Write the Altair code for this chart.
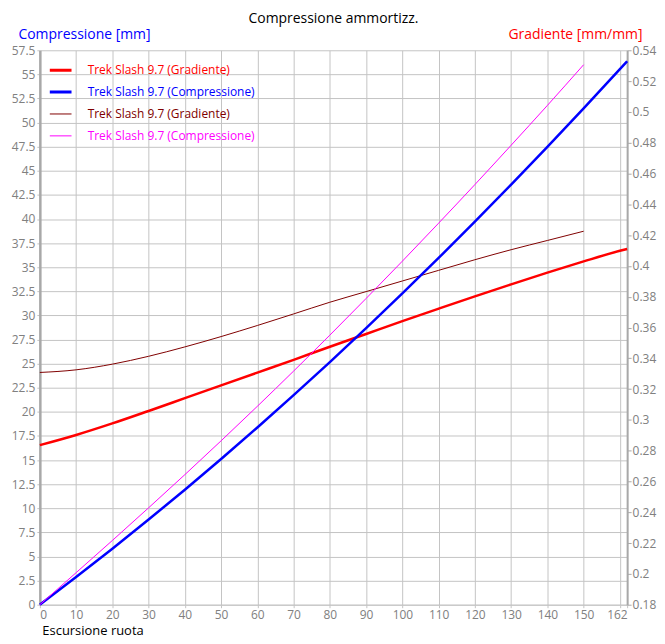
import altair as alt
import pandas as pd

# ---- data ----
x_long = [0, 10, 20, 30, 40, 50, 60, 70, 80, 90, 100, 110, 120, 130, 140, 150, 160, 162]
x_short = [0, 10, 20, 30, 40, 50, 60, 70, 80, 90, 100, 110, 120, 130, 140, 150]

# Trek Slash 9.7 (Gradiente) - thick red, right axis [mm/mm]
grad_1 = [0.2836, 0.2902, 0.2977, 0.3058, 0.3141, 0.3224, 0.3307, 0.3390, 0.3475,
          0.3558, 0.3641, 0.3722, 0.3802, 0.3880, 0.3956, 0.4029, 0.4098, 0.4110]
# Trek Slash 9.7 (Compressione) - thick blue, left axis [mm]
comp_1 = [0.0, 2.87, 5.81, 8.83, 11.93, 15.11, 18.38, 21.73, 25.16,
          28.68, 32.28, 35.96, 39.73, 43.57, 47.49, 51.48, 55.54, 56.36]
# Trek Slash 9.7 (Gradiente) - thin dark red, right axis
grad_2 = [0.3308, 0.3325, 0.3362, 0.3413, 0.3474, 0.3541, 0.3613, 0.3688,
          0.3764, 0.3833, 0.3902, 0.3971, 0.4040, 0.4105, 0.4165, 0.4225]
# Trek Slash 9.7 (Compressione) - thin magenta, left axis
comp_2 = [0.0, 3.32, 6.66, 10.05, 13.49, 17.00, 20.58, 24.23,
          27.96, 31.76, 35.63, 39.57, 43.57, 47.65, 51.78, 56.00]

keys = ["A", "B", "C", "D"]
names = ["Trek Slash 9.7 (Gradiente)", "Trek Slash 9.7 (Compressione)",
         "Trek Slash 9.7 (Gradiente)", "Trek Slash 9.7 (Compressione)"]
colors = ["#ff0000", "#0000ff", "#800000", "#ff00ff"]

x_ticks = list(range(0, 161, 10)) + [162]
left_ticks = [round(2.5 * i, 1) for i in range(24)]
right_ticks = [round(0.18 + 0.02 * i, 2) for i in range(19)]

# ---- tables ----
df_a = pd.DataFrame({"x": x_long, "v": grad_1, "key": "A"})
df_b = pd.DataFrame({"x": x_long, "v": comp_1, "key": "B"})
df_c = pd.DataFrame({"x": x_short, "v": grad_2, "key": "C"})
df_d = pd.DataFrame({"x": x_short, "v": comp_2, "key": "D"})

label_expr = " : ".join(
    [f"datum.value == '{k}' ? '{n}'" for k, n in zip(keys[:-1], names[:-1])]
) + f" : '{names[-1]}'"
color_expr = " : ".join(
    [f"datum.value == '{k}' ? '{c}'" for k, c in zip(keys[:-1], colors[:-1])]
) + f" : '{colors[-1]}'"
width_expr = "datum.value == 'A' || datum.value == 'B' ? 3 : 1"

GRAY = "#808080"
GRID = "#c4c4c4"

x_enc = alt.X(
    "x:Q",
    scale=alt.Scale(domain=[0, 162], nice=False, zero=False),
    axis=alt.Axis(
        values=x_ticks, format="d",
        labelExpr="datum.value == 160 ? '' : datum.label",
        grid=True, gridColor=GRID, gridOpacity=1,
        domainColor=GRID, tickColor=GRID, tickSize=3,
        labelColor=GRAY, labelFontSize=12, labelPadding=2,
        title="Escursione ruota", titleFontSize=13, titleFontWeight="normal",
        titleColor="#000000", titleAlign="left", titleAnchor="start",
        titleX=2, titleY=26, titleBaseline="middle",
    ),
)

color_enc = alt.Color(
    "key:N",
    scale=alt.Scale(domain=keys, range=colors),
    legend=alt.Legend(
        title=None, orient="none", legendX=10, legendY=12,
        symbolType="stroke", symbolSize=1000, clipHeight=16, rowPadding=6,
        symbolStrokeWidth=alt.ExprRef(width_expr),
        labelExpr=label_expr, labelColor=alt.ExprRef(color_expr),
        labelFontSize=12, labelOffset=26, labelLimit=400, padding=0,
    ),
)

left_axis = alt.Axis(
    values=left_ticks, format=".1~f", grid=True, gridColor=GRID, gridOpacity=1,
    domainColor="#a8a8a8", domainWidth=2.5, tickColor=GRID, tickSize=3,
    labelColor=GRAY, labelFontSize=12, labelPadding=2,
    title="Compressione [mm]", titleAngle=0, titleColor="#0000ff",
    titleFontSize=14, titleFontWeight="normal", titleAlign="left",
    titleX=-22, titleY=-9, titleBaseline="bottom",
)
right_axis = alt.Axis(
    orient="right", values=right_ticks, format=".2~f", grid=False,
    domainColor="#a8a8a8", domainWidth=2, tickColor="#a8a8a8", tickSize=4,
    labelColor=GRAY, labelFontSize=12, labelPadding=1,
    title="Gradiente [mm/mm]", titleAngle=0, titleColor="#ff0000",
    titleFontSize=14, titleFontWeight="normal", titleAlign="right",
    titleX=15, titleY=-9, titleBaseline="bottom",
)
left_y = alt.Y("v:Q", scale=alt.Scale(domain=[0, 57.5], nice=False, zero=False), axis=left_axis)
right_y = alt.Y("v:Q", scale=alt.Scale(domain=[0.18, 0.54], nice=False, zero=False), axis=right_axis)


def line(df, y, w):
    return alt.Chart(df).mark_line(interpolate="monotone", strokeWidth=w).encode(
        x=x_enc, y=y, color=color_enc
    )


grad_layer = alt.layer(line(df_a, right_y, 2.5), line(df_c, right_y, 1.0))
comp_layer = alt.layer(line(df_b, left_y, 2.5), line(df_d, left_y, 1.0))

chart = alt.layer(grad_layer, comp_layer).resolve_scale(y="independent").properties(
    width=590, height=557,
    autosize=alt.AutoSizeParams(type="none"),
    padding={"left": 32, "top": 41, "right": 30, "bottom": 36},
    title=alt.Title("Compressione ammortizz.", fontSize=14, fontWeight="normal",
                    color="#000000", anchor="middle", offset=1),
).configure(font="Open Sans").configure_view(strokeWidth=0)

chart.save("out.html", embed_options={"renderer": "svg", "actions": False})
